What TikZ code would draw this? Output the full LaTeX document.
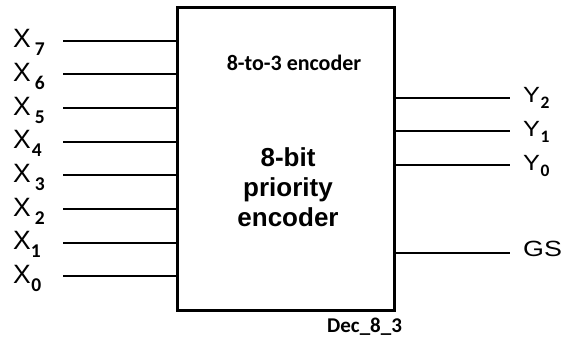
\documentclass[tikz,border=0pt]{standalone}
\usepackage{fontspec}
\setmainfont{Liberation Sans}
\newfontfamily\calibfont{Carlito}
\begin{document}
\begin{tikzpicture}[x=1pt,y=-1pt,
  wire/.style={line width=2pt,line cap=butt},
  blockbox/.style={draw,line width=3pt,minimum width=217pt,minimum height=303pt,inner sep=0pt},
  pinlabel/.style={inner sep=0pt,anchor=base west},
  caption/.style={inner sep=0pt,font=\calibfont\bfseries}]
\useasboundingbox (0,0) rectangle (564,343);

% the encoder block
\node[blockbox] (enc) at (285.5,158.5) {};
\node[caption,anchor=base,font=\calibfont\bfseries\fontsize{22}{26}\selectfont] (sub) at (294,70) {8-to-3 encoder};
\node[inner sep=0pt,align=center,font=\bfseries\fontsize{26}{30}\selectfont] (title) at (288,187.5) {8-bit\\priority\\encoder};
\node[caption,anchor=base west,font=\calibfont\bfseries\fontsize{21}{24}\selectfont] (tag) at (327,332) {Dec\_8\_3};

% inputs X7 ... X0: index / wire y / gap before the subscript
\foreach \i/\y/\g in {7/40.7/4,6/74.4/4,5/108/4,4/141.7/1,3/175/4,2/209/4,1/242.7/0,0/276/0.5}{
  \node[pinlabel,font=\fontsize{26.5}{30}\selectfont] (x\i) at (13,\y+7)
    {X\hspace{\g pt}\raisebox{-8pt}{\calibfont\bfseries\fontsize{19.5}{22}\selectfont\i}};
  \coordinate (xs\i) at (63,\y);
  \draw[wire] (xs\i) -- (enc.west |- xs\i);
}

% outputs Y2 ... Y0
\foreach \i/\y in {2/97.7,1/131.3,0/165.3}{
  \coordinate (ye\i) at (510,\y);
  \draw[wire] (enc.east |- ye\i) -- (ye\i);
  \node[pinlabel] (y\i) at (523,\y+5)
    {\scalebox{1.15}[1]{\fontsize{22}{24}\selectfont Y}\hspace{0.5pt}\raisebox{-6pt}{\calibfont\bfseries\fontsize{17.5}{20}\selectfont\i}};
}

% group signal
\coordinate (gse) at (510,252.7);
\draw[wire] (enc.east |- gse) -- (gse);
\node[pinlabel] (gs) at (523,256.7) {\scalebox{1.22}[1]{\fontsize{22}{24}\selectfont GS}};
\end{tikzpicture}
\end{document}
